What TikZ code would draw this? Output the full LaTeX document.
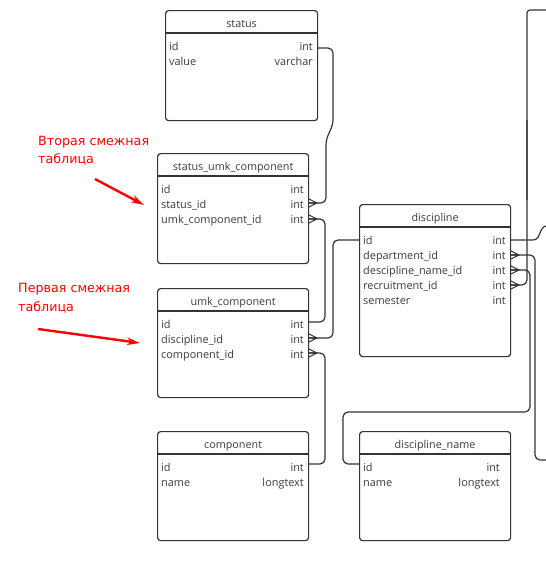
\documentclass[tikz,border=0pt]{standalone}
\usepackage{fontspec}
\setmainfont{Open Sans}
\newfontfamily\redfont{DejaVu Sans}
\usetikzlibrary{arrows.meta}
\definecolor{lc}{HTML}{333333}
\definecolor{tc}{HTML}{3C3C3C}
\definecolor{rc}{HTML}{FF0000}
\newcommand{\tabframe}[6]{%
  \node[tbl, minimum width=#4pt, minimum height=#5pt] (#1) at (#2,#3) {};
  \draw[line width=1.2pt, draw=lc] ([yshift=-23pt]#1.north west) -- ([yshift=-23pt]#1.north east);
  \node[hdr] (#1-h) at ([yshift=-17pt]#1.north) {#6};
}
\newcommand{\tabrow}[7]{% name, xl, xr, baseline, field, type
  \node[fld] (#1-f) at (#2,#4) {#5};
  \node[typ] (#1-t) at (#3,#4) {#6};
}
\begin{document}
\begin{tikzpicture}[x=1pt,y=-1pt,
  tbl/.style={draw=lc, line width=1.2pt, rounded corners=3pt, fill=white, inner sep=0pt, anchor=north west},
  hdr/.style={font=\fontsize{10.8}{12}\selectfont, text=tc, anchor=base, inner sep=0pt},
  fld/.style={font=\fontsize{10.9}{12}\selectfont, text=tc, anchor=base west, inner sep=0pt},
  typ/.style={font=\fontsize{10.9}{12}\selectfont, text=tc, anchor=base east, inner sep=0pt},
  conn/.style={draw=lc, line width=1.2pt, rounded corners=5pt},
  crow/.pic={\draw[draw=lc, line width=1.1pt] (0,-4.5) -- (9,0) -- (0,4.5) (0,0) -- (9,0);},
  redlbl/.style={font=\redfont\fontsize{12.7}{14}\selectfont, text=rc, anchor=base west, inner sep=0pt},
  redarrow/.style={draw=rc, line width=2.4pt, -{Stealth[length=13pt, width=7.5pt]}}
]
\useasboundingbox (0,0) rectangle (546,581);
\clip (0,0) rectangle (546,581);

% ---------- ports ----------
\coordinate (p-st-id) at (317,48);
\coordinate (p-su-st) at (308,203);
\coordinate (p-su-umk) at (308,219);
\coordinate (p-um-id) at (308,322);
\coordinate (p-um-disc) at (308,338);
\coordinate (p-um-comp) at (308,353);
\coordinate (p-co-id) at (308,464);
\coordinate (p-di-id-l) at (359,240);
\coordinate (p-di-id-r) at (510,240);
\coordinate (p-di-dep) at (510,255);
\coordinate (p-di-dn) at (510,270);
\coordinate (p-di-rec) at (510,285);
\coordinate (p-dn-id) at (359,464);
\coordinate (x-dep) at (546,460);
\coordinate (x-did) at (546,226);
\coordinate (x-rec) at (527,120);

% ---------- partially visible table on the right ----------
\draw[draw=lc, line width=1.2pt, rounded corners=3pt] (560,10) -- (527,10) -- (527,200);

% ---------- connectors ----------
\draw[conn] (p-st-id) -- (333,48) -- (333,124) -- (326,140) -- (326,203) -- (p-su-st);
\draw[conn] (p-su-umk) -- (325,219) -- (325,322) -- (p-um-id);
\draw[conn] (p-um-disc) -- (333,338) -- (333,240) -- (p-di-id-l);
\draw[conn] (p-um-comp) -- (325,353) -- (325,464) -- (p-co-id);
\draw[draw=lc, line width=1.2pt] (p-di-id-r) -- (533,240) .. controls (541,240) and (539,227) .. (x-did);
\draw[conn] (p-di-dep) -- (535,255) -- (535,460) -- (x-dep);
\draw[conn] (p-di-dn) -- (530,270) -- (530,412) -- (343,412) -- (343,464) -- (p-dn-id);
\draw[conn] (p-di-rec) -- (527,285) -- (x-rec);

\pic at (p-su-st) {crow};
\pic at (p-su-umk) {crow};
\pic at (p-um-disc) {crow};
\pic at (p-um-comp) {crow};
\pic at (p-di-dep) {crow};
\pic at (p-di-dn) {crow};
\pic at (p-di-rec) {crow};

% ---------- tables ----------
\tabframe{status}{165}{10}{152}{110}{status}
\tabrow{st-id}{169}{313}{50}{id}{int}{}
\tabrow{st-val}{169}{313}{65}{value}{varchar}{}

\tabframe{sumk}{157}{153}{151}{110}{status\_umk\_component}
\tabrow{su-id}{161}{304}{193}{id}{int}{}
\tabrow{su-st}{161}{304}{208}{status\_id}{int}{}
\tabrow{su-umk}{161}{304}{223}{umk\_component\_id}{int}{}

\tabframe{umk}{157}{288}{151}{109}{umk\_component}
\tabrow{um-id}{161}{304}{328}{id}{int}{}
\tabrow{um-disc}{161}{304}{343}{discipline\_id}{int}{}
\tabrow{um-comp}{161}{304}{358}{component\_id}{int}{}

\tabframe{comp}{157}{431}{151}{109}{component}
\tabrow{co-id}{161}{304}{471}{id}{int}{}
\tabrow{co-name}{161}{304}{486}{name}{longtext}{}

\tabframe{disc}{359}{204}{151}{152}{discipline}
\tabrow{di-id}{363}{506}{244}{id}{int}{}
\tabrow{di-dep}{363}{506}{259}{department\_id}{int}{}
\tabrow{di-dn}{363}{506}{274}{descipline\_name\_id}{int}{}
\tabrow{di-rec}{363}{506}{289}{recruitment\_id}{int}{}
\tabrow{di-sem}{363}{506}{304}{semester}{int}{}

\tabframe{dname}{359}{431}{151}{109}{discipline\_name}
\tabrow{dn-id}{363}{500}{471}{id}{int}{}
\tabrow{dn-name}{363}{500}{486}{name}{longtext}{}

% ---------- red annotations ----------
\node[redlbl] (l2a) at (38,145) {Вторая смежная};
\node[redlbl] (l2b) at (38,163) {таблица};
\node[redlbl] (l1a) at (18,292) {Первая смежная};
\node[redlbl] (l1b) at (18,311) {таблица};
\coordinate (a2s) at (95,179);
\coordinate (a2e) at (144,205);
\coordinate (a1s) at (38,329);
\coordinate (a1e) at (140,343);
\draw[redarrow] (a2s) -- (a2e);
\draw[redarrow] (a1s) -- (a1e);
\end{tikzpicture}
\end{document}
